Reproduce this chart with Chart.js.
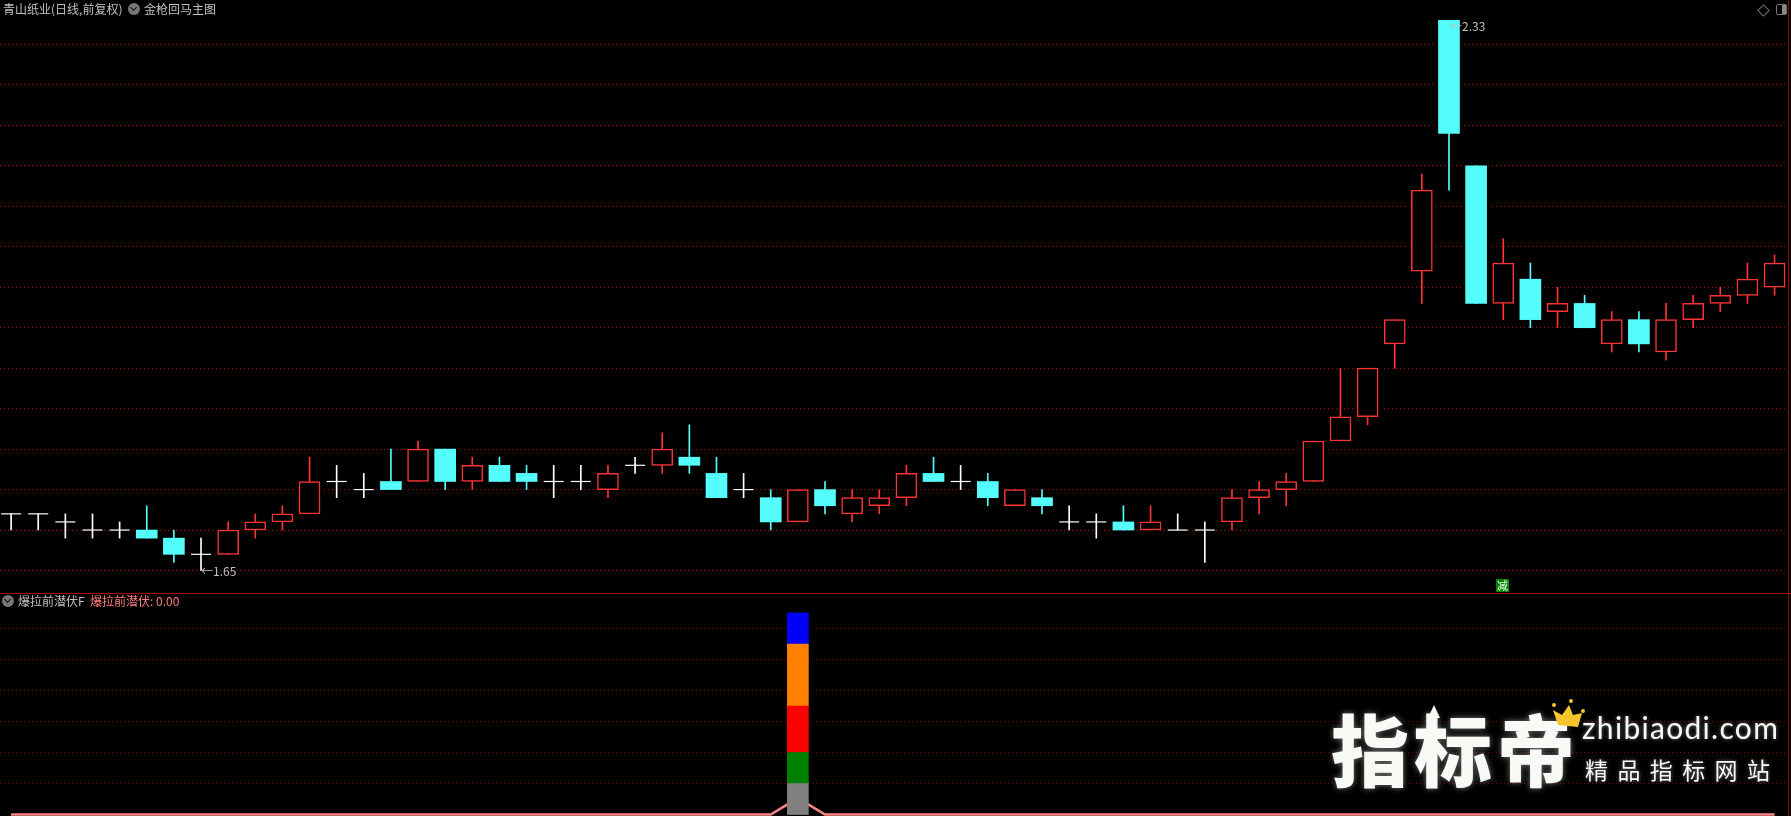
<!DOCTYPE html>
<html>
<head>
<meta charset="utf-8">
<script src="https://cdn.jsdelivr.net/npm/chart.js@4/dist/chart.umd.min.js"></script>
<style>
html, body { margin: 0; padding: 0; background: #000; overflow: hidden; }
#page { position: relative; width: 1791px; height: 816px; background: #000; overflow: hidden; font-family: "Noto Sans CJK SC", sans-serif; }
canvas { position: absolute; left: 0; }
#priceWrap { position: absolute; left: 0; top: 0; width: 1788px; height: 593px; }
#indicatorWrap { position: absolute; left: 0; top: 594px; width: 1788px; height: 222px; }
#divider { position: absolute; left: 0; top: 593px; width: 1791px; height: 1px; background: #a00000; }
#rightEdge { position: absolute; left: 1788px; top: 0; width: 1px; height: 816px; background: #a00000; }
.label { position: absolute; font-size: 12px; line-height: 14px; white-space: nowrap; color: #c0c0c0; }
.dropIcon { position: absolute; width: 12px; height: 12px; border-radius: 50%; background: #777; }
.dropIcon::after { content: ""; position: absolute; left: 3px; top: 2px; width: 4px; height: 4px; border-right: 1px solid #111; border-bottom: 1px solid #111; transform: rotate(45deg); }
.mark { position: absolute; font-size: 12px; line-height: 12px; color: #c0c0c0; white-space: nowrap; }
#sellTag { position: absolute; left: 1496px; top: 579px; width: 13px; height: 13px; background: #008000; color: #e8ffe8; font-size: 11px; line-height: 13px; text-align: center; }
#diamond { position: absolute; left: 1759px; top: 6px; width: 7px; height: 7px; border: 1px solid #777; transform: rotate(45deg); }
#panelBtn { position: absolute; left: 1776px; top: 4px; width: 9px; height: 9px; border: 1px solid #777; border-radius: 2px; }
#panelBtn::after { content: ""; position: absolute; right: 0; top: 0; width: 4px; height: 9px; background: #888; }
#brand { position: absolute; left: 1331px; top: 702px; font-size: 78px; line-height: 90px; font-weight: 900; color: #f8faf6; letter-spacing: 5px; white-space: nowrap; text-shadow: 0 0 6px #777; }
#site { position: absolute; left: 1582px; top: 709px; font-family: "Lato", sans-serif; font-size: 30px; line-height: 36px; letter-spacing: 1.3px; color: #f8faf6; white-space: nowrap; text-shadow: 0 0 4px #777; }
#slogan { position: absolute; left: 1585px; top: 754px; font-size: 23px; line-height: 30px; letter-spacing: 9.4px; color: #f8faf6; white-space: nowrap; text-shadow: 0 0 4px #777; }
#brandArt { position: absolute; left: 0; top: 0; }
</style>
</head>
<body>
<div id="page">
    <div id="priceWrap"><canvas id="priceChart"></canvas></div>
    <div id="indicatorWrap"><canvas id="indicatorChart"></canvas></div>
    <div id="divider"></div>
    <div id="rightEdge"></div>

    <div class="label" style="left:3px;top:2px">青山纸业(日线,前复权)</div>
    <div class="dropIcon" style="left:128px;top:3px"></div>
    <div class="label" style="left:144px;top:2px">金枪回马主图</div>
    <div id="diamond"></div>
    <div id="panelBtn"></div>

    <div class="dropIcon" style="left:2px;top:595px"></div>
    <div class="label" style="left:18px;top:594px">爆拉前潜伏F</div>
    <div class="label" style="left:90px;top:594px;color:#ff7d7d">爆拉前潜伏: 0.00</div>

    <div class="mark" style="left:201px;top:565px">←1.65</div>
    <div class="mark" style="left:1450px;top:20px">←2.33</div>
    <div id="sellTag">减</div>

    <div id="brand">指标帝</div>
    <svg id="brandArt" width="1791" height="816">
        <polygon points="1434,705 1428,718 1440,718" fill="#f8faf6"/>
        <polygon points="1553,710 1562,715 1569,705 1573,715 1582,713 1578,727 1558,725" fill="#f5c52c"/>
        <circle cx="1554" cy="705" r="2" fill="#f5c52c"/>
        <circle cx="1571" cy="701" r="2" fill="#f5c52c"/>
        <circle cx="1583" cy="711" r="2" fill="#f5c52c"/>
    </svg>
    <div id="site">zhibiaodi.com</div>
    <div id="slogan">精品指标网站</div>
</div>

<script>
// daily bars
const categories = ['d01','d02','d03','d04','d05','d06','d07','d08','d09','d10','d11','d12','d13','d14','d15','d16','d17','d18','d19','d20','d21','d22','d23','d24','d25','d26','d27','d28','d29','d30','d31','d32','d33','d34','d35','d36','d37','d38','d39','d40','d41','d42','d43','d44','d45','d46','d47','d48','d49','d50','d51','d52','d53','d54','d55','d56','d57','d58','d59','d60','d61','d62','d63','d64','d65','d66'];
const opens = [1.72,1.72,1.71,1.70,1.70,1.70,1.69,1.67,1.67,1.70,1.71,1.72,1.76,1.75,1.76,1.76,1.80,1.76,1.78,1.77,1.76,1.76,1.75,1.78,1.78,1.79,1.77,1.75,1.74,1.71,1.75,1.72,1.73,1.74,1.77,1.76,1.76,1.73,1.74,1.71,1.71,1.71,1.70,1.70,1.70,1.71,1.74,1.75,1.76,1.81,1.84,1.93,2.02,2.33,2.15,1.98,2.01,1.97,1.98,1.93,1.96,1.92,1.96,1.98,1.99,2.00];
const highs = [1.72,1.72,1.72,1.72,1.71,1.73,1.70,1.69,1.71,1.72,1.73,1.79,1.78,1.77,1.80,1.81,1.80,1.79,1.79,1.78,1.78,1.78,1.78,1.79,1.82,1.83,1.79,1.77,1.75,1.75,1.76,1.75,1.75,1.78,1.79,1.78,1.77,1.75,1.75,1.73,1.72,1.73,1.73,1.72,1.71,1.75,1.76,1.77,1.81,1.90,1.90,1.96,2.14,2.33,2.15,2.06,2.03,2.00,1.99,1.97,1.97,1.98,1.99,2.00,2.03,2.04];
const lows = [1.70,1.70,1.69,1.69,1.69,1.69,1.66,1.65,1.67,1.69,1.70,1.72,1.74,1.74,1.75,1.76,1.75,1.75,1.76,1.75,1.74,1.75,1.74,1.77,1.77,1.77,1.74,1.74,1.70,1.71,1.72,1.71,1.72,1.73,1.76,1.75,1.73,1.73,1.72,1.70,1.69,1.70,1.70,1.70,1.66,1.70,1.72,1.73,1.76,1.81,1.83,1.90,1.98,2.12,1.98,1.96,1.95,1.95,1.95,1.92,1.92,1.91,1.95,1.97,1.98,1.99];
const closes = [1.72,1.72,1.71,1.70,1.70,1.69,1.67,1.67,1.70,1.71,1.72,1.76,1.76,1.75,1.75,1.80,1.76,1.78,1.76,1.76,1.76,1.76,1.77,1.78,1.80,1.78,1.74,1.75,1.71,1.75,1.73,1.74,1.74,1.77,1.76,1.76,1.74,1.75,1.73,1.71,1.71,1.70,1.71,1.70,1.70,1.74,1.75,1.76,1.81,1.84,1.90,1.96,2.12,2.19,1.98,2.03,1.96,1.98,1.95,1.96,1.93,1.96,1.98,1.99,2.01,2.03];

const priceGridLevels = [1.65,1.70,1.75,1.80,1.85,1.90,1.95,2.00,2.05,2.10,2.15,2.20,2.25,2.30];

// indicator panel: stacked block on one day plus the pink line
const signalDay = 29;
const greyBlock = 10;
const greenBlock = 10;
const redBlock = 15;
const orangeBlock = 20;
const blueBlock = 10;
const indicatorLine = [0,0,0,0,0,0,0,0,0,0,0,0,0,0,0,0,0,0,0,0,0,0,0,0,0,0,0,0,0,5.3,0,0,0,0,0,0,0,0,0,0,0,0,0,0,0,0,0,0,0,0,0,0,0,0,0,0,0,0,0,0,0,0,0,0,0,0];
const indicatorGridLevels = [10,20,30,40,50,60];

const RED = '#ff3333';
const CYAN = '#54fcfc';
const WHITE = '#ffffff';
const STEP = 27.13;
const XMIN = -11.1 / STEP;
const XMAX = (1788 - 11.1) / STEP;

function xScale() {
    return { type: 'linear', min: XMIN, max: XMAX, offset: false, display: false };
}

function yScale(min, max, levels, gridColor) {
    return {
        min: min,
        max: max,
        border: { display: false, dash: [1, 3] },
        ticks: { display: false },
        grid: { color: gridColor, lineWidth: 1, drawTicks: false },
        afterFit: axis => { axis.width = 0; },
        afterBuildTicks: axis => { axis.ticks = levels.map(v => ({ value: v })); }
    };
}

const gaps = [], wicksRed = [], wicksCyan = [], wicksWhite = [], hollowBodies = [], solidBodies = [], dojis = [];
categories.forEach((name, i) => {
    const wick = { x: i, y: [lows[i], highs[i]] };
    if (opens[i] === closes[i]) {
        wicksWhite.push(wick);
        dojis.push({ x: i, y: closes[i] });
    } else if (closes[i] > opens[i]) {
        wicksRed.push(wick);
        hollowBodies.push({ x: i, y: [opens[i], closes[i]] });
        gaps.push({ x: i, y: [opens[i], closes[i]] });
    } else {
        wicksCyan.push(wick);
        solidBodies.push({ x: i, y: [closes[i], opens[i]] });
        gaps.push({ x: i, y: [closes[i], opens[i]] });
    }
});

function wickSet(data, color, width) {
    return { type: 'bar', data: data, backgroundColor: color, barThickness: width, grouped: false, order: 3 };
}

new Chart(document.getElementById('priceChart'), {
    data: {
        datasets: [
            { type: 'bar', data: gaps, backgroundColor: '#000', barThickness: 26, grouped: false, order: 4 },
            wickSet(wicksRed, RED, 1),
            wickSet(wicksCyan, CYAN, 1),
            wickSet(wicksWhite, WHITE, 1),
            { type: 'bar', data: hollowBodies, backgroundColor: '#000', borderColor: RED, borderWidth: 1.5, borderSkipped: false, barThickness: 21, grouped: false, order: 2 },
            { type: 'bar', data: solidBodies, backgroundColor: CYAN, barThickness: 21, grouped: false, order: 2 },
            { type: 'scatter', data: dojis, pointStyle: 'line', pointRadius: 10, pointBorderColor: WHITE, pointBorderWidth: 1.2, order: 1 }
        ]
    },
    options: {
        responsive: true,
        maintainAspectRatio: false,
        animation: false,
        layout: { padding: 0, autoPadding: false },
        plugins: { legend: { display: false }, tooltip: { enabled: false } },
        scales: {
            x: xScale(),
            y: yScale(1.65 - 22.5 / 809.2, 2.30 + 44.5 / 809.2, priceGridLevels, '#a80000')
        }
    }
});

new Chart(document.getElementById('indicatorChart'), {
    data: {
        datasets: [
            { type: 'line', data: indicatorLine.map((v, i) => ({ x: i, y: v })), borderColor: '#ff8585', borderWidth: 2.5, pointRadius: 0, tension: 0, clip: false, order: 3 },
            { type: 'bar', data: [{ x: signalDay, y: greyBlock }], backgroundColor: '#808080', barThickness: 21, stack: 'signal', order: 1 },
            { type: 'bar', data: [{ x: signalDay, y: greenBlock }], backgroundColor: '#008000', barThickness: 21, stack: 'signal', order: 1 },
            { type: 'bar', data: [{ x: signalDay, y: redBlock }], backgroundColor: '#ff0000', barThickness: 21, stack: 'signal', order: 1 },
            { type: 'bar', data: [{ x: signalDay, y: orangeBlock }], backgroundColor: '#ff8000', barThickness: 21, stack: 'signal', order: 1 },
            { type: 'bar', data: [{ x: signalDay, y: blueBlock }], backgroundColor: '#0000ff', barThickness: 21, stack: 'signal', order: 1 }
        ]
    },
    options: {
        responsive: true,
        maintainAspectRatio: false,
        animation: false,
        layout: { padding: 0, autoPadding: false },
        plugins: { legend: { display: false }, tooltip: { enabled: false } },
        scales: {
            x: Object.assign(xScale(), { stacked: true }),
            y: Object.assign(yScale(-1.5 / 3.1, 220.5 / 3.1, indicatorGridLevels, '#800000'), { stacked: true })
        }
    }
});
</script>
</body>
</html>
